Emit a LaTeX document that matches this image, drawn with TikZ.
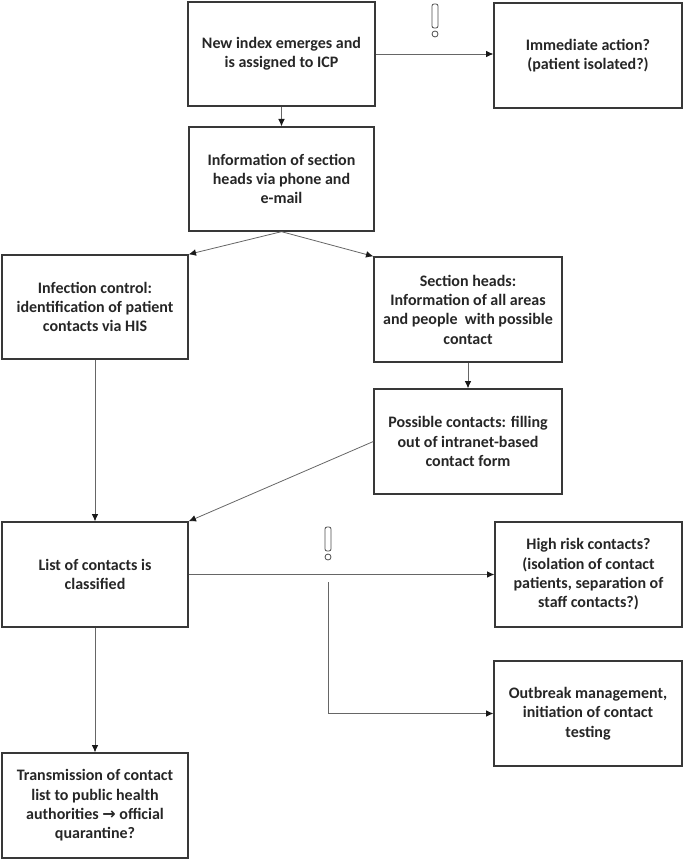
\documentclass[tikz,border=0pt]{standalone}
\usepackage{fontspec}
\setmainfont{Carlito}
\newfontfamily\arrowfont{DejaVu Sans}
\usetikzlibrary{arrows.meta}
\begin{document}
\begin{tikzpicture}[x=0.75pt,y=-0.75pt,
  box/.style 2 args={draw=black!78,line width=1pt,rectangle,inner sep=0pt,align=center,
    minimum width=#1*0.75pt,minimum height=#2*0.75pt,
    font=\bfseries\fontsize{12}{14.5}\selectfont,text=black!85},
  conn/.style={draw=black!60,line width=0.6pt,-{Latex[length=5.5pt,width=5pt,color=black!90]}},
  excl/.pic={\draw[black!70,line width=0.6pt,rounded corners=1.5pt] (-3,0) rectangle (3,24);
             \draw[black!70,line width=0.6pt] (0,30) circle[radius=3];}]
\useasboundingbox (0,0) rectangle (685,859);

\node[box={187}{104}] (b1) at (281.5,54) {New index emerges and\\is assigned to ICP};
\node[box={188}{105}] (b2) at (588,55.5) {Immediate action?\\(patient isolated?)};
\node[box={185}{104}] (b3) at (281.5,179) {Information of section\\heads via phone and\\e-mail};
\node[box={186}{104}] (b4) at (95,307) {Infection control:\\identification of patient\\contacts via HIS};
\node[box={188}{105}] (b5) at (468,309.5) {Section heads:\\Information of all areas\\and people\ \ with possible\\contact};
\node[box={188}{105}] (b6) at (468,441.5) {Possible contacts: filling\\out of intranet-based\\contact form};
\node[box={186}{105}] (b7) at (95,574.5) {List of contacts is\\classified};
\node[box={187}{105}] (b8) at (588.5,574.5) {High risk contacts?\\(isolation of contact\\patients, separation of\\staff contacts?)};
\node[box={188}{105}] (b9) at (588,713.5) {Outbreak management,\\initiation of contact\\testing};
\node[box={186}{105}] (b10) at (95,805.5) {Transmission of contact\\list to public health\\authorities {\arrowfont\bfseries →} official\\quarantine?};

\coordinate (j1) at (328,582);

\draw[conn] (b1.south) -- (b3.north);
\draw[conn] (b1.east) -- (b1.east -| b2.west);
\draw[conn] (b3.south) -- (b4.north east);
\draw[conn] (b3.south) -- (b5.north west);
\draw[conn] (b5.south) -- (b6.north);
\draw[conn] (b4.south) -- (b7.north);
\draw[conn] (b6.west) -- (b7.north east);
\draw[conn] (b7.east) -- (b8.west);
\draw[conn] (j1) |- (b9.west);
\draw[conn] (b7.south) -- (b10.north);

\pic at (435,4) {excl};
\pic at (328,527) {excl};
\end{tikzpicture}
\end{document}
